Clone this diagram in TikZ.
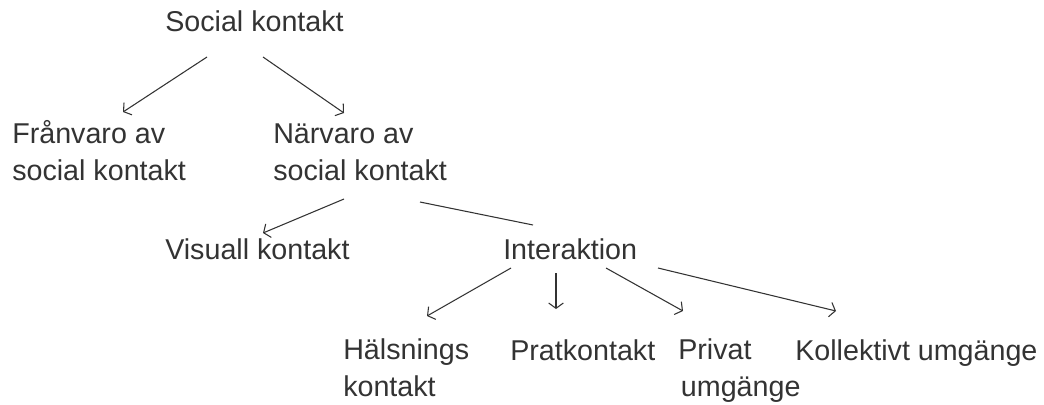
\documentclass[tikz,border=0pt]{standalone}
\usepackage{fontspec}
\setmainfont{Liberation Sans}
\usetikzlibrary{arrows.meta,calc}
\definecolor{pen}{HTML}{333333}

\begin{document}
\begin{tikzpicture}[x=0.75pt,y=-0.75pt,
every node/.style={anchor=base west,inner sep=0pt,align=left,text=pen,
  font=\fontsize{21.5}{27.5}\selectfont},
link/.style={pen,line width=0.8pt,-{Straight Barb[length=4pt,width=11pt]}},
plain/.style={pen,line width=0.8pt}]
\useasboundingbox (0,0) rectangle (1044,404);
\node (social) at (165,31) {Social kontakt};
\node (franvaro) at (12,180) {Frånvaro av\\social kontakt};
\node (narvaro) at (273,180) {Närvaro av\\social kontakt};
\node (visuell) at (165,259) {Visuall kontakt};
\node (interakt) at (503,259) {Interaktion};
\node (halsning) at (343,396) {Hälsnings\\kontakt};
\node (prat) at (510,360) {Pratkontakt};
\node (privat) at (678,396) {Privat\\\hspace*{2pt}umgänge};
\node (kollektiv) at (795,360) {Kollektivt umgänge};
% level 1
\draw[link] ($(social.base west)+(42,26)$) -- ($(franvaro.base west)+(111,-68)$);
\draw[link] ($(social.base west)+(98,26)$) -- ($(narvaro.base west)+(71,-67)$);
% level 2
\draw[link] ($(narvaro.base west)+(71,19)$) -- ($(visuell.base west)+(98,-26)$);
\draw[plain] ($(narvaro.base west)+(147,22)$) -- ($(interakt.base west)+(30,-34)$);
% level 3
\draw[link] ($(interakt.base west)+(8,9)$) -- ($(halsning.base west)+(84,-80)$);
\draw[link] ($(interakt.base west)+(53,14)$) -- ($(prat.base west)+(46,-51)$);
\draw[link] ($(interakt.base west)+(103,9)$) -- ($(privat.base west)+(5,-85)$);
\draw[link] ($(interakt.base west)+(155,9)$) -- ($(kollektiv.base west)+(41,-49)$);
\end{tikzpicture}
\end{document}
